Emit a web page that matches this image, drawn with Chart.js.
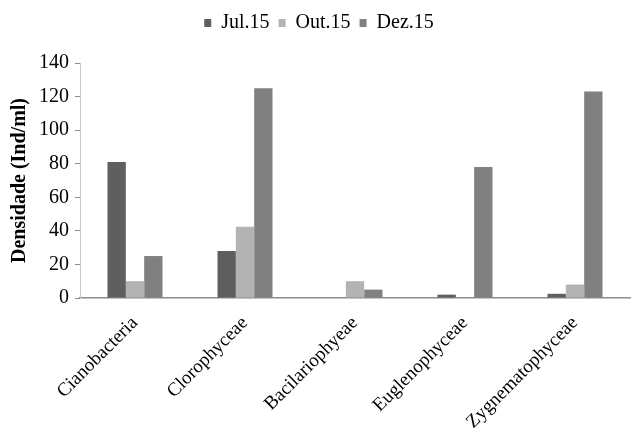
<!DOCTYPE html>
<html>
<head>
<meta charset="utf-8">
<script src="https://cdn.jsdelivr.net/npm/chart.js@4/dist/chart.umd.min.js"></script>
<style>
  html, body { margin: 0; padding: 0; background: #fff; }
  #wrap { width: 634px; height: 434px; }
</style>
</head>
<body>
<div id="wrap"><canvas id="c" width="634" height="434"></canvas></div>
<script>
// Phytoplankton classes and density per sampling campaign (Ind/ml)
const classes = ["Cianobacteria", "Clorophyceae", "Bacilariophyeae", "Euglenophyceae", "Zygnematophyceae"];
const jul15 = [81, 28, 0, 2, 2.5];
const out15 = [10, 42.5, 10, 0, 8];
const dez15 = [25, 125, 5, 78, 123];
const seriesNames = ["Jul.15", "Out.15", "Dez.15"];
const seriesColors = ["#5f5f5f", "#b3b3b3", "#808080"];
const yTicks = [0, 20, 40, 60, 80, 100, 120, 140];

const serif = "'Liberation Serif', 'Times New Roman', serif";
const axisGray = "#8c8c8c";

// Leaves a gap between the legend row and the plot area
const legendGap = {
  id: "legendGap",
  beforeInit(chart) {
    const lg = chart.legend;
    if (!lg) return;
    const fit = lg.fit;
    lg.fit = function () {
      fit.call(this);
      this.height += 20;
    };
  }
};

new Chart(document.getElementById("c"), {
  type: "bar",
  data: {
    labels: classes,
    datasets: [jul15, out15, dez15].map((vals, i) => ({
      label: seriesNames[i],
      data: vals,
      backgroundColor: seriesColors[i],
      borderWidth: 0,
      categoryPercentage: 0.5,
      barPercentage: 1.0
    }))
  },
  options: {
    responsive: false,
    animation: false,
    layout: { padding: { top: 4, right: 4, left: 8, bottom: 0 } },
    plugins: {
      legend: {
        position: "top",
        labels: {
          font: { family: serif, size: 20 },
          color: "#000",
          boxWidth: 7,
          boxHeight: 8,
          padding: 9
        }
      },
      tooltip: { enabled: false }
    },
    scales: {
      x: {
        grid: { display: false },
        border: { display: true, color: axisGray, width: 1.5 },
        ticks: {
          font: { family: serif, size: 19 },
          color: "#000",
          minRotation: 45,
          maxRotation: 45,
          padding: 6
        },
        afterFit(scale) { scale.height = 136; }
      },
      y: {
        min: 0,
        max: 140,
        afterBuildTicks(scale) { scale.ticks = yTicks.map(v => ({ value: v })); },
        grid: {
          display: true,
          drawOnChartArea: false,
          drawTicks: true,
          tickLength: 5,
          color: axisGray
        },
        border: { display: true, color: "#c8c8c8", width: 1 },
        ticks: {
          font: { family: serif, size: 20 },
          color: "#000",
          padding: 6
        },
        title: {
          display: true,
          text: "Densidade (Ind/ml)",
          font: { family: serif, size: 20, weight: "bold" },
          color: "#000",
          padding: { top: 0, bottom: 4 }
        },
        afterFit(scale) { scale.width = 72; }
      }
    }
  },
  plugins: [legendGap]
});
</script>
</body>
</html>
